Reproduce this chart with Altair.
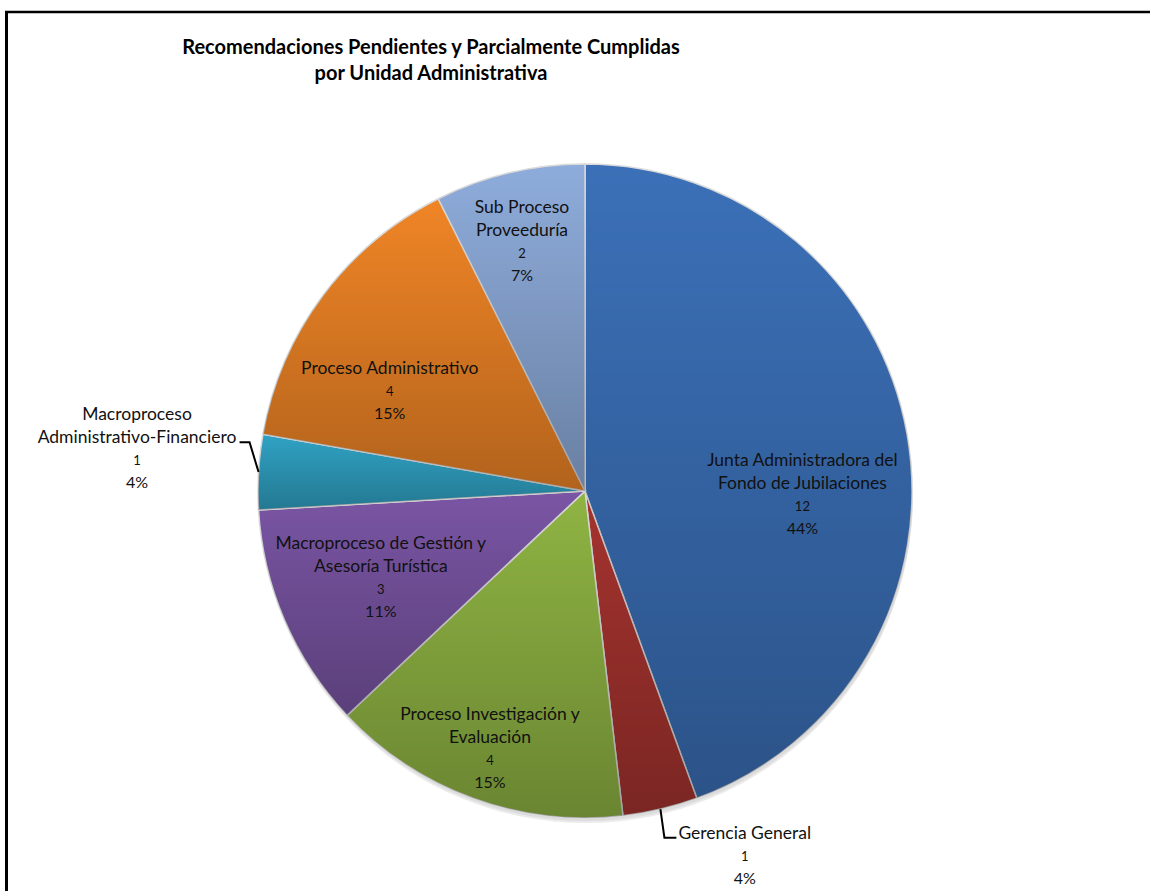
import math
import altair as alt
import pandas as pd

# ---- data ----
categories = [
    "Junta Administradora del Fondo de Jubilaciones",
    "Gerencia General",
    "Proceso Investigación y Evaluación",
    "Macroproceso de Gestión y Asesoría Turística",
    "Macroproceso Administrativo-Financiero",
    "Proceso Administrativo",
    "Sub Proceso Proveeduría",
]
values = [12, 1, 4, 3, 1, 4, 2]
name_line1 = ["Junta Administradora del", "", "Proceso Investigación y",
              "Macroproceso de Gestión y", "Macroproceso", "", "Sub Proceso"]
name_line2 = ["Fondo de Jubilaciones", "Gerencia General", "Evaluación",
              "Asesoría Turística", "Administrativo-Financiero",
              "Proceso Administrativo", "Proveeduría"]
title_lines = ["Recomendaciones Pendientes y Parcialmente Cumplidas",
               "por Unidad Administrativa"]

# ---- styling / layout ----
top_colors = ["#3B70B8", "#A5332F", "#8FB443", "#7A55A4", "#30A2C4", "#F08526", "#8EACDB"]
label_t = [0.589, -0.27, 0.489, 0.436, 0.535, 0.317, 0.441]   # position within slice
label_r = [218, 399, 286, 227, 449, 219, 245]                 # label radius (px)
W, H = 1150, 891
CX, CY, R = 585, 491, 327
FONT = "Lato"

total = sum(values)
df = pd.DataFrame({"cat": categories, "value": values,
                   "line1": name_line1, "line2": name_line2})
df["end"] = df["value"].cumsum()
df["start"] = df["end"] - df["value"]
df["count"] = df["value"].astype(str)
df["pct"] = (df["value"] / total * 100).round().astype(int).astype(str) + "%"
df["anchor"] = df["start"] + pd.Series(label_t) * df["value"]
df["lr"] = label_r
df["color"] = top_colors

theta_scale = alt.Scale(domain=[0, total], range=[0, 2 * math.pi])

# leader lines: from slice edge (mid angle) to label
rows = []
for i, side in [(1, 1), (4, -1)]:
    mid = (df.loc[i, "start"] + df.loc[i, "value"] / 2) / total * 2 * math.pi
    ex, ey = CX + R * math.sin(mid), CY - R * math.cos(mid)
    a = df.loc[i, "anchor"] / total * 2 * math.pi
    ax, ay = CX + label_r[i] * math.sin(a), CY - label_r[i] * math.cos(a)
    ly = ay - 19
    if side > 0:
        pts = [(ex, ey), (ex + 4, ly), (ex + 16, ly)]
    else:
        pts = [(ex, ey), (ex - 9, ly), (ex - 19, ly)]
    for k, (px, py) in enumerate(pts):
        rows.append({"cat": df.loc[i, "cat"], "k": k, "px": px, "py": py})
leader = pd.DataFrame(rows)

base = alt.Chart(df)

shadow = alt.Chart(pd.DataFrame({"s": [1]})).mark_arc(
    fill="black", fillOpacity=0.06, outerRadius=R
).encode(theta=alt.value(0), theta2=alt.value(2 * math.pi),
         x=alt.value(CX + 1), y=alt.value(CY + 3))
shadow2 = alt.Chart(pd.DataFrame({"s": [1]})).mark_arc(
    fill="black", fillOpacity=0.08, outerRadius=R
).encode(theta=alt.value(0), theta2=alt.value(2 * math.pi),
         x=alt.value(CX + 1), y=alt.value(CY + 5))

slices = base.mark_arc(outerRadius=R, stroke="#D9D9D9", strokeWidth=1.5).encode(
    theta=alt.Theta("start:Q", scale=theta_scale),
    theta2="end:Q",
    fill=alt.Color("color:N", scale=None),
    x=alt.value(CX), y=alt.value(CY),
)

shade = base.mark_arc(
    outerRadius=R,
    fill=alt.Gradient(gradient="linear", x1=0, y1=0, x2=0, y2=1,
                      stops=[alt.GradientStop(color="rgba(0,0,0,0)", offset=0),
                             alt.GradientStop(color="rgba(0,0,0,0.26)", offset=1)]),
).encode(
    theta=alt.Theta("start:Q", scale=theta_scale),
    theta2="end:Q",
    x=alt.value(CX), y=alt.value(CY),
)


def label_layer(field, size, dy):
    return base.mark_text(font=FONT, fontSize=size, color="#111111",
                          align="center", baseline="middle", dy=dy).encode(
        theta=alt.Theta("anchor:Q", scale=theta_scale),
        radius=alt.Radius("lr:Q", scale=None),
        text=f"{field}:N",
        x=alt.value(CX), y=alt.value(CY),
    )


labels = [label_layer("line1", 17.5, -46), label_layer("line2", 17.5, -23),
          label_layer("count", 13, 0), label_layer("pct", 16, 22)]

leaders = alt.Chart(leader).mark_line(color="black", strokeWidth=2).encode(
    x=alt.X("px:Q", scale=None), y=alt.Y("py:Q", scale=None),
    detail="cat:N", order="k:Q",
)

title_df = pd.DataFrame({"t": title_lines, "i": [0, 1]})
title = alt.Chart(title_df).mark_text(
    font=FONT, fontSize=20, fontWeight="bold", color="black",
    align="center", baseline="middle").encode(
    text="t:N",
    x=alt.value(431),
    y=alt.Y("i:Q", scale=alt.Scale(domain=[0, 1], range=[48, 74]), axis=None),
)

frame_left = alt.Chart(pd.DataFrame({"a": [0]})).mark_rule(color="black", strokeWidth=3).encode(
    x=alt.value(6.5), y=alt.value(11), y2=alt.value(H))
frame_top = alt.Chart(pd.DataFrame({"a": [0]})).mark_rule(color="black", strokeWidth=2.5).encode(
    x=alt.value(5), x2=alt.value(W), y=alt.value(12))

chart = alt.layer(shadow2, shadow, slices, shade, *labels, leaders, title,
                  frame_left, frame_top).properties(
    width=W, height=H, padding=0, autosize=alt.AutoSizeParams(type="none"),
    background="white",
).configure_view(stroke=None).resolve_scale(theta="shared")

chart.save("out.html", embed_options={"renderer": "svg", "actions": False})
